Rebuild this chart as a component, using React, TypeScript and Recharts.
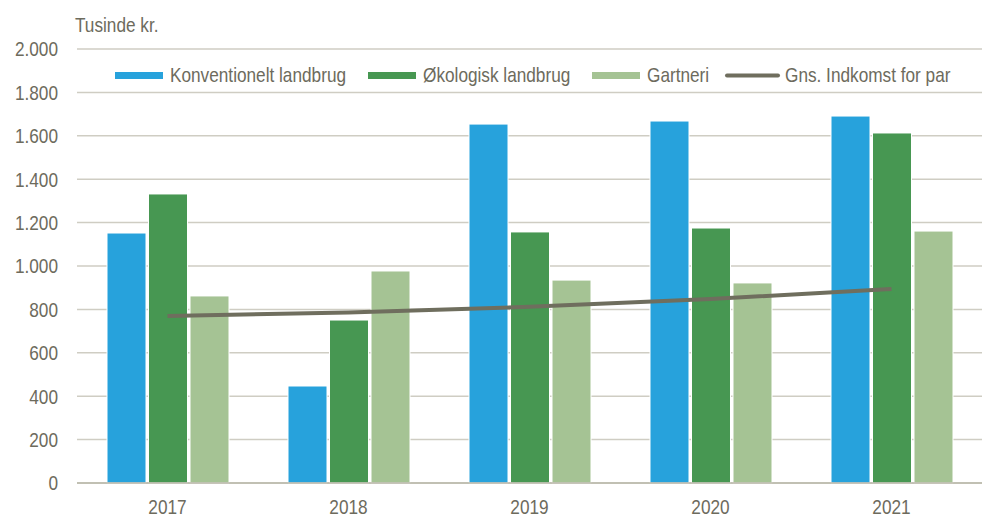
import {
  ComposedChart, Bar, Line, XAxis, YAxis, CartesianGrid,
} from 'recharts'

const YEARS = ['2017', '2018', '2019', '2020', '2021']
const KONVENTIONELT = [1152, 447, 1654, 1668, 1691]
const OKOLOGISK = [1332, 751, 1157, 1175, 1613]
const GARTNERI = [862, 977, 935, 922, 1161]
const GNS_INDKOMST = [770, 786, 812, 848, 894]
const Y_TICKS = [0, 200, 400, 600, 800, 1000, 1200, 1400, 1600, 1800, 2000]

// no narrow font installed, so squeeze Liberation Sans horizontally instead
const FONT = '"Liberation Sans", Arial, sans-serif'
const NARROW = 0.82
const TEXT = '#6d6b5d'

const SERIES = [
  { key: 'konv', name: 'Konventionelt landbrug', color: '#27a2dc', type: 'bar', iconX: 115, textX: 170 },
  { key: 'oko', name: 'Økologisk landbrug', color: '#479752', type: 'bar', iconX: 368, textX: 423 },
  { key: 'gart', name: 'Gartneri', color: '#a5c394', type: 'bar', iconX: 592, textX: 647 },
  { key: 'gns', name: 'Gns. Indkomst for par', color: '#6f6e5e', type: 'line', iconX: 725, textX: 785 },
]

const data = YEARS.map((year, i) => ({
  year,
  konv: KONVENTIONELT[i],
  oko: OKOLOGISK[i],
  gart: GARTNERI[i],
  gns: GNS_INDKOMST[i],
}))

// danish thousands separator
function fmtTick(v: number): string {
  return String(v).replace(/\B(?=(\d{3})+(?!\d))/g, '.')
}

function YTick(props: any) {
  const { x, y, payload } = props
  return (
    <g transform={`translate(${x},${y})`}>
      <text transform={`scale(${NARROW},1)`} textAnchor="end" dy="0.355em" fontSize={21} fill={TEXT} fontFamily={FONT}>
        {fmtTick(payload.value)}
      </text>
    </g>
  )
}

function XTick(props: any) {
  const { x, y, payload } = props
  return (
    <g transform={`translate(${x},${y})`}>
      <text transform={`scale(${NARROW},1)`} textAnchor="middle" dy="0.71em" fontSize={21} fill={TEXT} fontFamily={FONT}>
        {payload.value}
      </text>
    </g>
  )
}

function Overlay() {
  return (
    <svg width={987} height={518} style={{ position: 'absolute', left: 0, top: 0, pointerEvents: 'none' }}>
      <text transform={`translate(75,32) scale(${NARROW},1)`} fontSize={21} fill={TEXT} fontFamily={FONT}>Tusinde kr.</text>
      {SERIES.map(s => (
        <g key={s.key}>
          {s.type === 'bar' ? (
            <rect x={s.iconX} y={72} width={48} height={7} fill={s.color} />
          ) : (
            <line x1={s.iconX + 2} y1={75.5} x2={s.iconX + 53} y2={75.5} stroke={s.color} strokeWidth={4} strokeLinecap="round" />
          )}
          <text transform={`translate(${s.textX},82) scale(${NARROW},1)`} fontSize={21} fill={TEXT} fontFamily={FONT}>{s.name}</text>
        </g>
      ))}
    </svg>
  )
}

export default function App() {
  return (
    <div style={{ position: 'absolute', left: 0, top: 0, width: 987, height: 518, background: '#fff' }}>
      <ComposedChart
        width={987}
        height={518}
        data={data}
        margin={{ top: 49, right: 5, left: 0, bottom: 5 }}
        barGap={2.5}
      >
        <CartesianGrid vertical={false} stroke="#cfcdc3" strokeWidth={1.5} />
        <XAxis
          dataKey="year"
          height={30}
          tickLine={false}
          tickSize={0}
          tickMargin={16}
          axisLine={{ stroke: '#b9b7a9', strokeWidth: 1.5 }}
          tick={<XTick />}
        />
        <YAxis
          width={77}
          domain={[0, 2000]}
          ticks={Y_TICKS}
          interval={0}
          axisLine={false}
          tickLine={false}
          tickSize={0}
          tickMargin={19}
          tick={<YTick />}
        />
        <Bar dataKey="konv" name="Konventionelt landbrug" fill="#27a2dc" stroke="#fff" strokeWidth={1} barSize={39} isAnimationActive={false} />
        <Bar dataKey="oko" name="Økologisk landbrug" fill="#479752" stroke="#fff" strokeWidth={1} barSize={39} isAnimationActive={false} />
        <Bar dataKey="gart" name="Gartneri" fill="#a5c394" stroke="#fff" strokeWidth={1} barSize={39} isAnimationActive={false} />
        <Line
          dataKey="gns"
          name="Gns. Indkomst for par"
          type="monotone"
          stroke="#6f6e5e"
          strokeWidth={4}
          dot={false}
          activeDot={false}
          isAnimationActive={false}
        />
      </ComposedChart>
      <Overlay />
    </div>
  )
}
